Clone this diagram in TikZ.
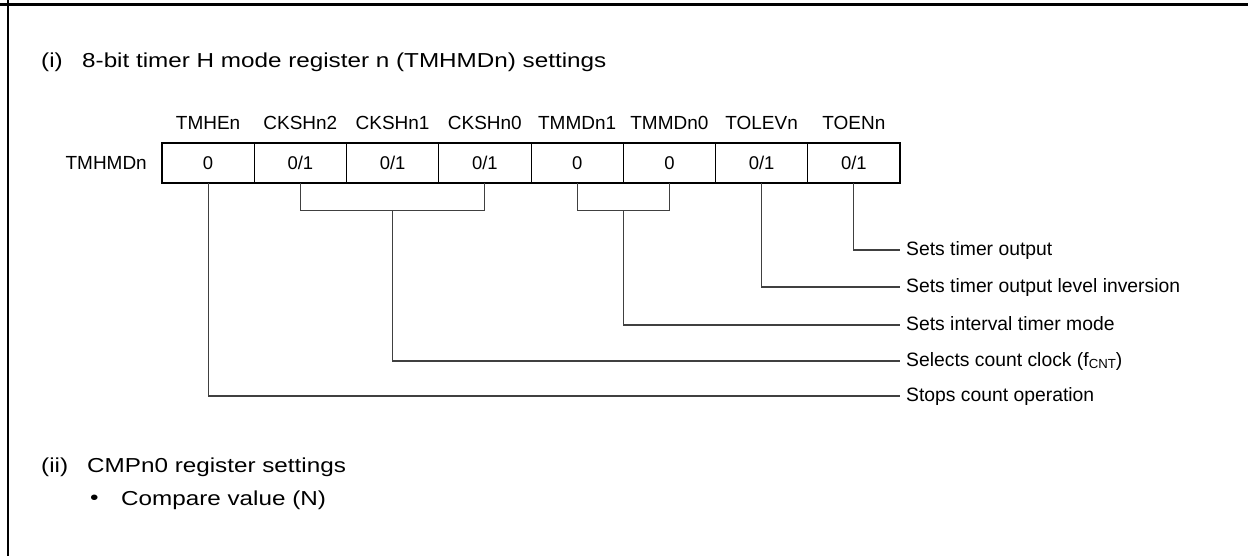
\documentclass[tikz,border=0pt]{standalone}
\usepackage{fontspec}
\setmainfont{Liberation Sans}
\newfontfamily\headfont[FakeStretch=1.2]{Liberation Sans}
\tikzset{
  cell/.style={draw,line width=0.5pt,minimum width=1.845cm,minimum height=0.8cm,inner sep=0pt,font=\fontsize{10.5}{12}\selectfont},
  bitname/.style={font=\fontsize{10.8}{12}\selectfont},
  desc/.style={anchor=west,font=\fontsize{11}{12}\selectfont,text height=1.6ex,text depth=0.35ex},
  title/.style={anchor=west,font=\headfont\fontsize{11.5}{13}\selectfont},
  wire/.style={black!75,line width=0.6pt}
}
\begin{document}
\begin{tikzpicture}[x=0.02cm,y=-0.02cm]
    \useasboundingbox (0,0) rectangle (1248,556);
    % frame (top and left edge only)
    \draw[line width=1.2pt] (0,4.5)--(1248,4.5);
    \draw[line width=1.2pt] (8,0)--(8,556);
    % headings
    \node[title] (ti) at (35,62) {(i)};
    \node[title] (ttl) at (76,62) {8-bit timer H mode register n (TMHMDn) settings};
    \node[title] (tii) at (35,467) {(ii)};
    \node[title] (tcmp) at (81,467) {CMPn0 register settings};
    \node[title] (blt) at (84,500) {\textbullet};
    \node[title] (tcv) at (115,500) {Compare value (N)};
    % register cells
    \foreach \i/\v/\n in {1/0/TMHEn,2/0\slash 1/CKSHn2,3/0\slash 1/CKSHn1,4/0\slash 1/CKSHn0,5/0/TMMDn1,6/0/TMMDn0,7/0\slash 1/TOLEVn,8/0\slash 1/TOENn}{
        \node[cell] (c\i) at ({162+92.25*(\i-0.5)},163) {\v};
        \node[bitname] (b\i) at ({162+92.25*(\i-0.5)},123) {\n};
    }
    \draw[line width=1.1pt] (c1.north west) rectangle (c8.south east);
    \node[bitname,anchor=east] (reg) at (153,163) {TMHMDn};
    % descriptions
    \node[desc] (d1) at (900,250) {Sets timer output};
    \node[desc] (d2) at (900,287) {Sets timer output level inversion};
    \node[desc] (d3) at (900,325) {Sets interval timer mode};
    \node[desc] (d4) at (900,361) {Selects count clock (f{\fontsize{7.5}{8}\selectfont\raisebox{-0.25ex}{CNT}})};
    \node[desc] (d5) at (900,396) {Stops count operation};
    % connectors
    \draw[wire] (c8.south) |- (d1.west);
    \draw[wire] (c7.south) |- (d2.west);
    \draw[wire] (c5.south) -- ++(0,27) -| (c6.south);
    \path (c5.south east) ++(0,27) coordinate (tm);
    \draw[wire] (tm) |- (d3.west);
    \draw[wire] (c2.south) -- ++(0,27) -| (c4.south);
    \path (c3.south) ++(0,27) coordinate (ck);
    \draw[wire] (ck) |- (d4.west);
    \draw[wire] (c1.south) |- (d5.west);
\end{tikzpicture}
\end{document}
